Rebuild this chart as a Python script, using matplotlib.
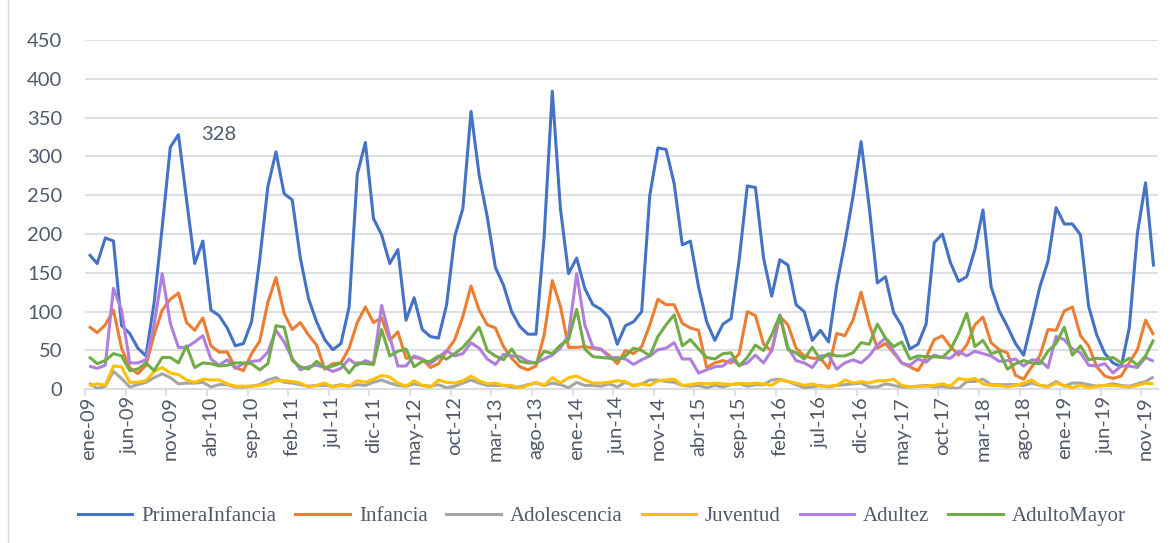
import matplotlib
matplotlib.use("Agg")
import matplotlib.pyplot as plt
from matplotlib.lines import Line2D
import numpy as np

# ---------------- data (monthly, ene-09 .. dic-19) ----------------
meses = ["ene", "feb", "mar", "abr", "may", "jun", "jul", "ago", "sep", "oct", "nov", "dic"]
categorias = [f"{meses[m % 12]}-{9 + m // 12:02d}" for m in range(132)]

primera_infancia = [
    174, 162, 195, 191, 82, 72, 53, 43, 111, 209, 312, 328, 244, 162, 191, 102, 95, 79, 56, 59,
    87, 167, 261, 306, 252, 244, 169, 117, 87, 64, 51, 59, 106, 277, 318, 220, 199, 162, 180, 89,
    118, 77, 68, 66, 109, 197, 233, 358, 276, 222, 157, 134, 100, 81, 71, 71, 197, 384, 233, 149,
    169, 130, 109, 103, 92, 58, 82, 87, 100, 250, 311, 309, 265, 186, 191, 132, 87, 63, 84, 91,
    167, 262, 260, 169, 120, 167, 160, 109, 100, 63, 76, 61, 134, 188, 248, 319, 235, 137, 145, 99,
    82, 52, 58, 84, 189, 200, 163, 139, 145, 180, 231, 132, 101, 81, 59, 44, 87, 132, 165, 234,
    213, 213, 199, 107, 70, 46, 34, 29, 79, 201, 266, 158]

infancia = [
    81, 73, 83, 102, 53, 28, 20, 31, 70, 102, 116, 124, 86, 76, 92, 56, 48, 48, 28, 24,
    46, 62, 112, 144, 98, 77, 86, 70, 57, 26, 33, 34, 53, 86, 106, 86, 92, 63, 74, 40,
    41, 39, 28, 33, 49, 64, 94, 133, 102, 83, 79, 55, 40, 29, 25, 30, 70, 140, 107, 54,
    54, 55, 53, 51, 44, 33, 50, 46, 55, 83, 116, 109, 109, 85, 79, 76, 28, 34, 37, 34,
    46, 100, 95, 58, 49, 94, 83, 53, 43, 40, 40, 27, 72, 69, 89, 125, 84, 53, 59, 47,
    34, 29, 24, 41, 64, 69, 55, 44, 57, 83, 93, 60, 51, 47, 18, 13, 29, 43, 77, 76,
    101, 106, 69, 56, 29, 17, 14, 17, 34, 51, 89, 70]

adolescencia = [
    8, 1, 4, 23, 14, 3, 6, 9, 15, 20, 15, 7, 8, 8, 9, 3, 6, 6, 3, 3,
    4, 6, 12, 15, 9, 8, 6, 4, 5, 5, 4, 6, 4, 6, 5, 9, 12, 8, 5, 4,
    7, 5, 4, 6, 2, 4, 8, 12, 8, 5, 5, 5, 3, 3, 6, 8, 5, 8, 6, 2,
    9, 5, 5, 4, 7, 3, 9, 5, 7, 12, 12, 10, 9, 5, 4, 5, 2, 5, 3, 6,
    7, 4, 6, 6, 12, 13, 10, 6, 2, 3, 5, 3, 5, 6, 7, 8, 3, 3, 7, 5,
    3, 3, 4, 5, 3, 4, 2, 1, 10, 10, 13, 6, 6, 6, 6, 5, 8, 5, 4, 10,
    4, 8, 8, 6, 4, 5, 7, 5, 4, 7, 10, 16]

juventud = [
    5, 7, 5, 30, 29, 9, 9, 11, 23, 28, 21, 19, 12, 9, 13, 12, 12, 7, 4, 4,
    4, 5, 7, 11, 11, 10, 8, 3, 5, 8, 3, 5, 4, 11, 9, 13, 18, 16, 8, 4,
    11, 5, 3, 12, 9, 8, 11, 17, 11, 7, 8, 5, 5, 1, 5, 9, 5, 15, 8, 15,
    17, 12, 8, 8, 9, 11, 10, 4, 7, 5, 11, 12, 13, 5, 6, 8, 7, 8, 7, 6,
    8, 7, 8, 7, 5, 12, 10, 8, 5, 7, 4, 4, 5, 12, 8, 10, 8, 11, 11, 13,
    5, 3, 4, 4, 5, 7, 4, 14, 12, 14, 7, 5, 5, 3, 5, 8, 12, 5, 3, 8,
    5, 2, 5, 2, 4, 5, 5, 4, 3, 5, 8, 7]

adultez = [
    30, 27, 31, 130, 102, 34, 34, 38, 83, 149, 85, 54, 54, 61, 69, 39, 31, 38, 27, 33,
    36, 37, 48, 76, 61, 40, 25, 29, 31, 28, 23, 27, 39, 31, 37, 33, 108, 68, 30, 30,
    43, 39, 33, 41, 50, 43, 46, 60, 53, 39, 32, 45, 43, 42, 36, 34, 39, 44, 53, 70,
    149, 83, 54, 52, 41, 41, 39, 32, 38, 43, 51, 53, 60, 39, 39, 21, 25, 29, 30, 39,
    31, 34, 44, 34, 50, 96, 54, 37, 34, 28, 43, 44, 26, 34, 38, 34, 43, 57, 66, 49,
    34, 31, 39, 35, 44, 41, 40, 49, 43, 49, 46, 43, 36, 37, 39, 30, 38, 37, 28, 68,
    64, 52, 47, 31, 30, 33, 21, 30, 30, 28, 41, 36]

adulto_mayor = [
    42, 33, 37, 46, 43, 24, 26, 34, 24, 41, 41, 34, 56, 28, 34, 33, 30, 31, 34, 34,
    33, 25, 33, 82, 80, 37, 29, 26, 36, 28, 30, 34, 21, 34, 33, 32, 77, 43, 49, 52,
    29, 36, 36, 43, 39, 46, 54, 66, 80, 50, 43, 38, 52, 36, 34, 34, 49, 46, 57, 64,
    103, 52, 42, 41, 40, 38, 43, 53, 50, 43, 68, 83, 96, 56, 64, 52, 41, 39, 46, 47,
    30, 41, 57, 50, 70, 95, 51, 47, 39, 54, 38, 46, 43, 43, 47, 60, 58, 84, 66, 55,
    61, 39, 43, 42, 42, 41, 51, 72, 98, 55, 63, 46, 49, 26, 33, 37, 34, 33, 49, 59,
    80, 44, 56, 38, 40, 39, 41, 34, 40, 31, 43, 64]

series_nombres = ["PrimeraInfancia", "Infancia", "Adolescencia", "Juventud", "Adultez", "AdultoMayor"]
series_valores = [primera_infancia, infancia, adolescencia, juventud, adultez, adulto_mayor]
colores = ["#4472C4", "#ED7D31", "#A5A5A5", "#FFC000", "#B07FDD", "#70AD47"]

etiqueta_pico = "328"
y_ticks = [0, 50, 100, 150, 200, 250, 300, 350, 400, 450]

# ---------------- figure ----------------
W, H = 1174, 543
fig = plt.figure(figsize=(W / 100, H / 100), dpi=100)
fig.patch.set_facecolor("white")

left, right, top, bottom = 85, 1157.7, 40, 389.3
ax = fig.add_axes([left / W, 1 - bottom / H, (right - left) / W, (bottom - top) / H])

text_color = "#515A6A"
grid_color = "#D9DDE3"
tick_font = "Lato"

x = np.arange(len(categorias))
for nombre, vals, col in zip(series_nombres, series_valores, colores):
    ax.plot(x, vals, color=col, lw=2.2, label=nombre, solid_joinstyle="round",
            solid_capstyle="butt", zorder=3)

ax.set_xlim(-0.5, len(categorias) - 0.5)
ax.set_ylim(0, 450)
ax.set_yticks(y_ticks)
ax.yaxis.grid(True, color=grid_color, lw=1.3, zorder=0)
ax.set_axisbelow(True)
for s in ["top", "right", "left"]:
    ax.spines[s].set_visible(False)
ax.spines["bottom"].set_color(grid_color)
ax.spines["bottom"].set_linewidth(1.3)

# tick marks at category boundaries every 5 months, labels at category centres
ax.set_xticks(np.arange(0, len(categorias), 5) - 0.5)
ax.set_xticklabels([])
ax.set_xticks(np.arange(0, len(categorias), 5), minor=True)
ax.set_xticklabels([categorias[i] for i in range(0, len(categorias), 5)], minor=True,
                   rotation=90, fontsize=14.5, color=text_color, family=tick_font)
ax.tick_params(axis="x", which="major", length=5, width=1.3, color=grid_color)
ax.tick_params(axis="x", which="minor", length=0, pad=5)
ax.tick_params(axis="y", length=0, pad=16.5, labelsize=14.5, labelcolor=text_color)
for lab in ax.get_yticklabels():
    lab.set_family(tick_font)

# data label for the first peak
i_pico = int(np.argmax(primera_infancia[:20]))
ax.text(i_pico + 4.9, primera_infancia[i_pico], etiqueta_pico, ha="center", va="center",
        fontsize=14.5, color=text_color, family=tick_font)

# legend
handles = [Line2D([], [], color=c, lw=2.2) for c in colores]
fig.legend(handles, series_nombres, loc="center", bbox_to_anchor=(602 / W, 1 - 516 / H),
           ncol=6, frameon=False, handlelength=2.6, handletextpad=0.45, columnspacing=0.9,
           prop={"family": "Liberation Serif", "size": 15}, labelcolor=text_color)

# chart-area border line on the left
fig.add_artist(Line2D([8 / W, 8 / W], [0, 1], color="#D9D9D9", lw=1.0, transform=fig.transFigure))

fig.savefig("out.png", dpi=100, facecolor="white")
